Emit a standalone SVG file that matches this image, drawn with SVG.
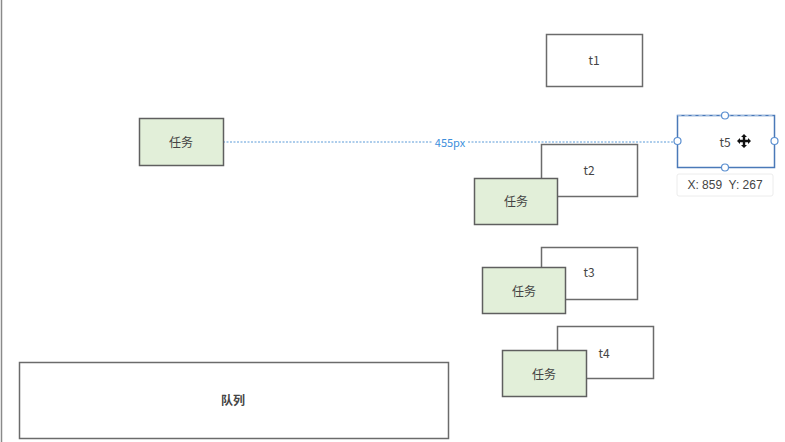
<svg xmlns="http://www.w3.org/2000/svg" width="785" height="442" viewBox="0 0 785 442">
<style>
.box{fill:#ffffff;stroke:#6b6b6b;stroke-width:1.5}
.task{fill:#e2efd9;stroke:#5f5f5f;stroke-width:1.5}
.lbl{font-family:"Noto Sans CJK SC","Liberation Sans",sans-serif;font-size:12px;fill:#444;text-anchor:middle;dominant-baseline:central}
.handle{fill:#ffffff;stroke:#5b8fd0;stroke-width:1.2}
</style>
<rect width="785" height="442" fill="#ffffff"/>
<line x1="1.5" y1="0" x2="1.5" y2="442" stroke="#8a8a8a" stroke-width="1.5"/>
<g id="connectors">
<line x1="223" y1="142" x2="677" y2="142" stroke="#5b9bd8" stroke-width="1" stroke-dasharray="2,1.5"/>
<rect x="432" y="135" width="36" height="14" fill="#ffffff"/>
<text x="450" y="142" class="lbl" style="font-size:11px;fill:#3d8fdc">455px</text>
</g>
<g id="t1"><rect class="box" x="546.5" y="34.5" width="96" height="52"/><text class="lbl" x="594" y="59">t1</text></g>
<g id="task1"><rect class="task" x="139.5" y="118.5" width="84" height="47"/><text class="lbl" x="181" y="141">任务</text></g>
<g id="t2"><rect class="box" x="541.5" y="144.5" width="96" height="52"/><text class="lbl" x="589" y="169">t2</text></g>
<g id="task2"><rect class="task" x="474.5" y="178.5" width="83" height="46"/><text class="lbl" x="516" y="200">任务</text></g>
<g id="t3"><rect class="box" x="541.5" y="247.5" width="96" height="52"/><text class="lbl" x="589" y="271">t3</text></g>
<g id="task3"><rect class="task" x="482.5" y="267.5" width="83" height="46"/><text class="lbl" x="524" y="290">任务</text></g>
<g id="t4"><rect class="box" x="557.5" y="326.5" width="96" height="52"/><text class="lbl" x="604" y="352">t4</text></g>
<g id="task4"><rect class="task" x="502.5" y="350.5" width="84" height="46"/><text class="lbl" x="544" y="373">任务</text></g>
<g id="queue"><rect class="box" x="19.5" y="362.5" width="429" height="76"/><text class="lbl" x="233" y="399" style="font-weight:bold">队列</text></g>
<g id="t5">
<rect x="677.5" y="115.5" width="97" height="52" fill="#ffffff" stroke="#4a79b8" stroke-width="1.5"/>
<line x1="677.5" y1="115.5" x2="774.5" y2="115.5" stroke="#9dbbe0" stroke-width="1" stroke-dasharray="4,3"/>
<text class="lbl" x="725" y="141">t5</text>
<g transform="translate(744,141)" fill="#111">
<path d="M0,-7 L3,-4 L1.2,-4 L1.2,-1.2 L4,-1.2 L4,-3 L7,0 L4,3 L4,1.2 L1.2,1.2 L1.2,4 L3,4 L0,7 L-3,4 L-1.2,4 L-1.2,1.2 L-4,1.2 L-4,3 L-7,0 L-4,-3 L-4,-1.2 L-1.2,-1.2 L-1.2,-4 L-3,-4 Z"/>
</g>
<circle class="handle" cx="725" cy="115.5" r="3.5"/>
<circle class="handle" cx="677.5" cy="141" r="3.5"/>
<circle class="handle" cx="774.5" cy="141" r="3.5"/>
<circle class="handle" cx="725" cy="167.5" r="3.5"/>
</g>
<g id="tooltip">
<rect x="677" y="174" width="96" height="22" rx="2" fill="#ffffff" stroke="#ececec" stroke-width="1"/>
<text x="725" y="185" style="font-family:'Liberation Sans',sans-serif;font-size:12px;fill:#444;text-anchor:middle;dominant-baseline:central" xml:space="preserve">X: 859  Y: 267</text>
</g>
</svg>
